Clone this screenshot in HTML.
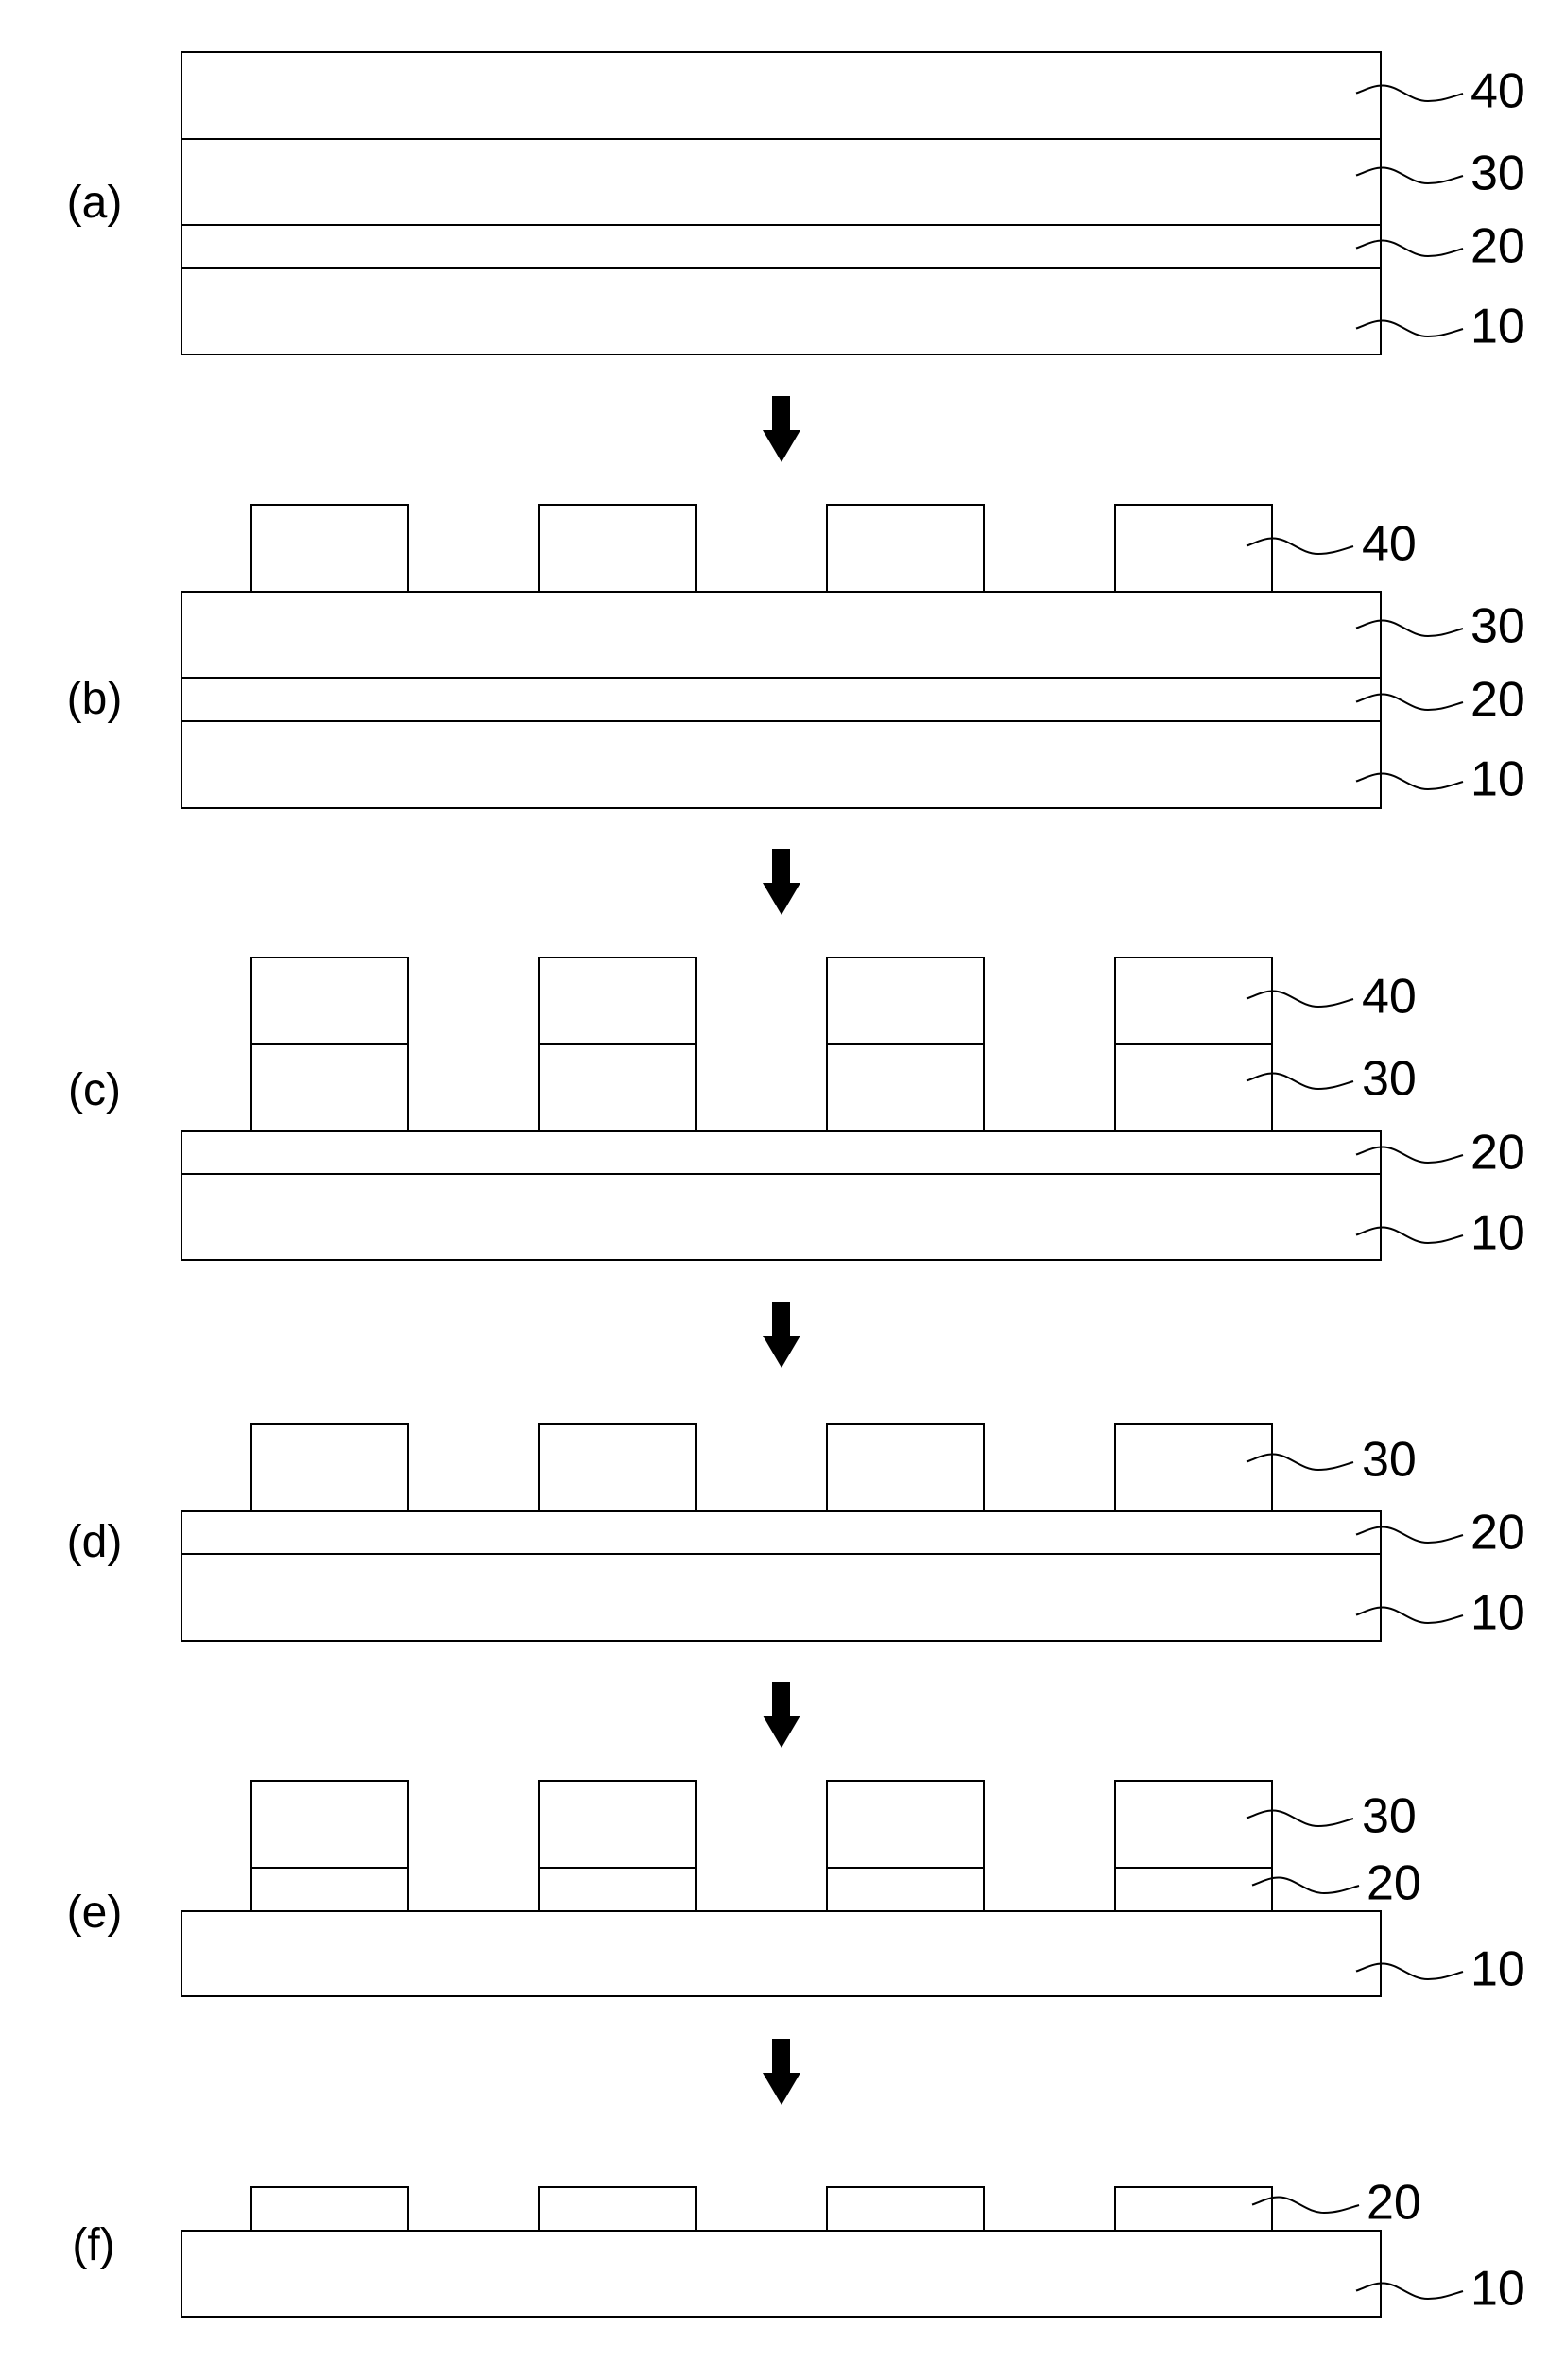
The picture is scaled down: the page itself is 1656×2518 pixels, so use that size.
<!DOCTYPE html>
<html><head><meta charset="utf-8"><style>
html,body{margin:0;padding:0;background:#fff;}
svg{display:block;}
text{font-family:"Liberation Sans",Arial,sans-serif;fill:#000;}
.d{font-size:52px;}
.p{font-size:48px;text-anchor:middle;}
</style></head><body>
<svg width="1656" height="2518" viewBox="0 0 1656 2518" xmlns="http://www.w3.org/2000/svg">
<defs>
<path id="sq" d="M0,3.5 C8,1 17,-4.5 28,-4.5 C45,-4.5 57,12 76,12 C90,12 100,8 113,4" fill="none" stroke="#000" stroke-width="2"/>
<g id="arr"><rect x="817" y="0" width="19" height="37" fill="#000"/><polygon points="807,36 847,36 827,70" fill="#000"/></g>
</defs>
<g fill="none" stroke="#000" stroke-width="2">
<!-- (a) -->
<rect x="192" y="55" width="1269" height="320"/>
<line x1="192" y1="147" x2="1461" y2="147"/>
<line x1="192" y1="238" x2="1461" y2="238"/>
<line x1="192" y1="284" x2="1461" y2="284"/>
<!-- (b) -->
<rect x="266" y="534" width="166" height="92"/>
<rect x="570" y="534" width="166" height="92"/>
<rect x="875" y="534" width="166" height="92"/>
<rect x="1180" y="534" width="166" height="92"/>
<rect x="192" y="626" width="1269" height="229"/>
<line x1="192" y1="717" x2="1461" y2="717"/>
<line x1="192" y1="763" x2="1461" y2="763"/>
<!-- (c) -->
<rect x="266" y="1013" width="166" height="184"/>
<rect x="570" y="1013" width="166" height="184"/>
<rect x="875" y="1013" width="166" height="184"/>
<rect x="1180" y="1013" width="166" height="184"/>
<line x1="266" y1="1105" x2="432" y2="1105"/>
<line x1="570" y1="1105" x2="736" y2="1105"/>
<line x1="875" y1="1105" x2="1041" y2="1105"/>
<line x1="1180" y1="1105" x2="1346" y2="1105"/>
<rect x="192" y="1197" width="1269" height="136"/>
<line x1="192" y1="1242" x2="1461" y2="1242"/>
<!-- (d) -->
<rect x="266" y="1507" width="166" height="92"/>
<rect x="570" y="1507" width="166" height="92"/>
<rect x="875" y="1507" width="166" height="92"/>
<rect x="1180" y="1507" width="166" height="92"/>
<rect x="192" y="1599" width="1269" height="137"/>
<line x1="192" y1="1644" x2="1461" y2="1644"/>
<!-- (e) -->
<rect x="266" y="1884" width="166" height="138"/>
<rect x="570" y="1884" width="166" height="138"/>
<rect x="875" y="1884" width="166" height="138"/>
<rect x="1180" y="1884" width="166" height="138"/>
<line x1="266" y1="1976" x2="432" y2="1976"/>
<line x1="570" y1="1976" x2="736" y2="1976"/>
<line x1="875" y1="1976" x2="1041" y2="1976"/>
<line x1="1180" y1="1976" x2="1346" y2="1976"/>
<rect x="192" y="2022" width="1269" height="90"/>
<!-- (f) -->
<rect x="266" y="2314" width="166" height="46"/>
<rect x="570" y="2314" width="166" height="46"/>
<rect x="875" y="2314" width="166" height="46"/>
<rect x="1180" y="2314" width="166" height="46"/>
<rect x="192" y="2360" width="1269" height="91"/>
</g>

<!-- arrows -->
<use href="#arr" transform="translate(0,419)"/>
<use href="#arr" transform="translate(0,898)"/>
<use href="#arr" transform="translate(0,1377)"/>
<use href="#arr" transform="translate(0,1779)"/>
<use href="#arr" transform="translate(0,2157)"/>

<!-- left labels -->
<text class="p" x="100" y="230">(a)</text>
<text class="p" x="100" y="755">(b)</text>
<text class="p" x="100" y="1169">(c)</text>
<text class="p" x="100" y="1647">(d)</text>
<text class="p" x="100" y="2039">(e)</text>
<text class="p" x="99" y="2391">(f)</text>

<!-- (a) right labels -->
<use href="#sq" transform="translate(1435,95)"/><text class="d" x="1556" y="113.5">40</text>
<use href="#sq" transform="translate(1435,182)"/><text class="d" x="1556" y="200.5">30</text>
<use href="#sq" transform="translate(1435,259)"/><text class="d" x="1556" y="277.5">20</text>
<use href="#sq" transform="translate(1435,344)"/><text class="d" x="1556" y="362.5">10</text>

<!-- (b) -->
<use href="#sq" transform="translate(1319,574)"/><text class="d" x="1441" y="592.5">40</text>
<use href="#sq" transform="translate(1435,661)"/><text class="d" x="1556" y="679.5">30</text>
<use href="#sq" transform="translate(1435,739)"/><text class="d" x="1556" y="757.5">20</text>
<use href="#sq" transform="translate(1435,823)"/><text class="d" x="1556" y="841.5">10</text>

<!-- (c) -->
<use href="#sq" transform="translate(1319,1053)"/><text class="d" x="1441" y="1071.5">40</text>
<use href="#sq" transform="translate(1319,1140)"/><text class="d" x="1441" y="1158.5">30</text>
<use href="#sq" transform="translate(1435,1218)"/><text class="d" x="1556" y="1236.5">20</text>
<use href="#sq" transform="translate(1435,1303)"/><text class="d" x="1556" y="1321.5">10</text>

<!-- (d) -->
<use href="#sq" transform="translate(1319,1543)"/><text class="d" x="1441" y="1561.5">30</text>
<use href="#sq" transform="translate(1435,1620)"/><text class="d" x="1556" y="1638.5">20</text>
<use href="#sq" transform="translate(1435,1705)"/><text class="d" x="1556" y="1723.5">10</text>

<!-- (e) -->
<use href="#sq" transform="translate(1319,1920)"/><text class="d" x="1441" y="1938.5">30</text>
<use href="#sq" transform="translate(1325,1991)"/><text class="d" x="1446" y="2009.5">20</text>
<use href="#sq" transform="translate(1435,2082)"/><text class="d" x="1556" y="2100.5">10</text>

<!-- (f) -->
<use href="#sq" transform="translate(1325,2329)"/><text class="d" x="1446" y="2347.5">20</text>
<use href="#sq" transform="translate(1435,2420)"/><text class="d" x="1556" y="2438.5">10</text>
</svg>
</body></html>
